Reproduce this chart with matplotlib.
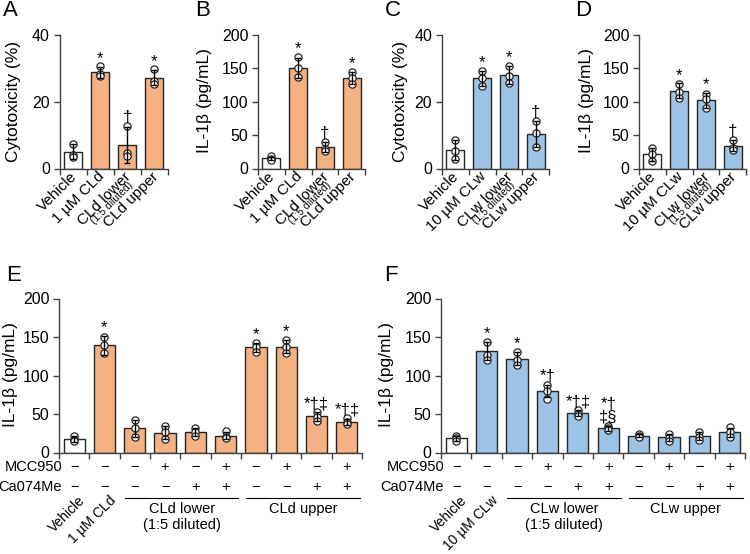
import matplotlib
matplotlib.use('Agg')
import matplotlib.pyplot as plt
import matplotlib.transforms as mtransforms
import numpy as np

plt.rcParams['font.family'] = ['Liberation Sans', 'DejaVu Sans']
plt.rcParams['font.size'] = 10

# ---------------- data ----------------
A_labels = ['Vehicle', '1 µM CLd', 'CLd lower', 'CLd upper']
A_subs = [None, None, '(1:5 diluted)', None]
A_means = [5.0, 28.8, 6.9, 27.2]
A_sds = [2.2, 1.6, 5.4, 2.3]
A_points = [[7.4, 4.0, 3.3], [30.6, 28.3, 27.8], [12.8, 4.5, 3.6], [29.7, 26.3, 25.3]]
A_sig = ['', '*', '†', '*']

B_labels = ['Vehicle', '1 µM CLd', 'CLd lower', 'CLd upper']
B_subs = [None, None, '(1:5 diluted)', None]
B_means = [15.0, 151.0, 32.0, 135.5]
B_sds = [2.5, 15.0, 8.0, 9.0]
B_points = [[18, 14, 13], [167, 151, 137], [40, 29, 26], [145, 135, 127]]
B_sig = ['', '*', '†', '*']

C_labels = ['Vehicle', '10 µM CLw', 'CLw lower', 'CLw upper']
C_subs = [None, None, '(1:5 diluted)', None]
C_means = [5.5, 27.0, 28.0, 10.3]
C_sds = [2.9, 2.2, 2.6, 4.0]
C_points = [[8.6, 5.2, 2.9], [29.2, 27.0, 24.8], [30.8, 27.6, 25.7], [14.2, 10.5, 6.3]]
C_sig = ['', '*', '*', '†']

D_labels = ['Vehicle', '10 µM CLw', 'CLw lower', 'CLw upper']
D_subs = [None, None, '(1:5 diluted)', None]
D_means = [21.0, 116.5, 102.0, 34.0]
D_sds = [10.0, 11.0, 11.0, 8.0]
D_points = [[31, 21, 11], [127, 114, 106], [112, 104, 90], [43, 31, 27]]
D_sig = ['', '*', '*', '†']

E_means = [17.5, 139.0, 31.5, 25.5, 27.0, 22.0, 136.5, 137.5, 47.0, 40.0]
E_sds = [3.5, 12.0, 11.0, 8.5, 5.0, 4.5, 6.0, 8.5, 5.5, 4.0]
E_points = [[22, 16, 14.5], [150, 139, 128.6], [42, 32, 20], [34, 26, 17.5], [32, 27, 21.5],
            [28, 20, 19], [142, 137, 130.5], [146, 137, 129], [52, 46, 41], [45, 39, 36.5]]
E_sig = ['', '*', '', '', '', '', '*', '*', '*†‡', '*†‡']
E_rot = ['Vehicle', '1 µM CLd']
E_groups = [('CLd lower\n(1:5 diluted)', 2, 5), ('CLd upper', 6, 9)]

F_means = [18.5, 131.5, 122.0, 80.0, 51.0, 31.5, 22.0, 19.5, 21.0, 26.0]
F_sds = [3.0, 12.0, 8.0, 8.0, 4.0, 3.0, 2.0, 4.0, 5.0, 6.0]
F_points = [[22, 19, 15.5], [144, 127, 120], [131, 120, 113], [88, 80, 70], [55, 50, 48],
            [35, 31.5, 29.5], [24, 22, 20.5], [24, 19, 15.5], [27, 20, 16.5], [33, 26, 20]]
F_sig = ['', '*', '*', '*†', '*†‡', '*†\n‡§', '', '', '', '']
F_rot = ['Vehicle', '10 µM CLw']
F_groups = [('CLw lower\n(1:5 diluted)', 2, 5), ('CLw upper', 6, 9)]

MCC950 = ['−', '−', '−', '+', '−', '+', '−', '+', '−', '+']
Ca074Me = ['−', '−', '−', '−', '+', '+', '−', '−', '+', '+']

ORANGE = '#F4B183'
BLUE = '#9DC3E6'
EDGE = '#262626'
AXC = '#404040'

W, H = 750, 554
fig = plt.figure(figsize=(W / 100, H / 100), dpi=100)


def px_axes(l, r, t, b):
    ax = fig.add_axes([l / W, 1 - b / H, (r - l) / W, (b - t) / H])
    ax.px = (l, r, t, b)
    return ax


def draw_bars(ax, means, sds, points, color, sig, ymax, step, width):
    n = len(means)
    x = np.arange(n)
    colors = ['white'] + [color] * (n - 1)
    ax.bar(x, means, width=width, color=colors, edgecolor=EDGE, linewidth=1.0, zorder=2)
    for xi, pts in zip(x, points):
        ax.plot([xi] * len(pts), pts, 'o', ms=5.2, mfc='white', mec=EDGE, mew=0.9,
                zorder=3, clip_on=False)
    ax.errorbar(x, means, yerr=sds, fmt='none', ecolor='black', elinewidth=1.0,
                capsize=2.5, capthick=1.0, zorder=4, clip_on=False)
    for xi, m, s, pts, t in zip(x, means, sds, points, sig):
        if t:
            top = max(m + s, max(pts))
            ax.annotate(t, (xi, top), xytext=(0, 0.5), textcoords='offset points',
                        ha='center', va='bottom', fontsize=12, linespacing=0.85)
    ax.set_xlim(-0.5, n - 0.5)
    ax.set_ylim(0, ymax)
    ticks = np.arange(0, ymax + 0.1, step)
    ax.set_yticks(ticks)
    ax.set_yticklabels([f'{int(v)}' for v in ticks], fontsize=11.5)
    ax.set_xticks(np.arange(n + 1) - 0.5)
    ax.set_xticklabels([])
    for s in ['top', 'right']:
        ax.spines[s].set_visible(False)
    for s in ['left', 'bottom']:
        ax.spines[s].set_color(AXC)
        ax.spines[s].set_linewidth(1.0)
    ax.tick_params(axis='both', direction='out', length=4, width=1.0, color=AXC, pad=3)
    ax.patch.set_alpha(0)


def offset(ax, dx_px, dy_px):
    return ax.get_xaxis_transform() + mtransforms.ScaledTranslation(
        dx_px / 100, dy_px / 100, fig.dpi_scale_trans)


def rot_labels(ax, labels, subs, dx=-3, dy=-1):
    for i, lab in enumerate(labels):
        ax.text(i, 0, lab, rotation=45, rotation_mode='anchor', ha='right', va='top',
                fontsize=11, transform=offset(ax, dx, dy))
        if subs[i]:
            ax.text(i, 0, subs[i], rotation=45, rotation_mode='anchor', ha='right', va='top',
                    fontsize=7.5, transform=offset(ax, dx + 4, dy - 10.5))


def ypx_to_axes(ax, ypx):
    l, r, t, b = ax.px
    return (b - ypx) / (b - t)


def bottom_table(ax, rot, groups):
    l, r, t, b = ax.px
    y1 = ypx_to_axes(ax, 467)
    y2 = ypx_to_axes(ax, 487)
    ax.text(3 / (r - l), y1, 'MCC950', transform=ax.transAxes, ha='right', va='center', fontsize=10.5)
    ax.text(3 / (r - l), y2, 'Ca074Me', transform=ax.transAxes, ha='right', va='center', fontsize=10.5)
    tr = ax.get_xaxis_transform()
    for i, (a, c) in enumerate(zip(MCC950, Ca074Me)):
        ax.text(i, y1, a, transform=tr, ha='center', va='center', fontsize=10.5)
        ax.text(i, y2, c, transform=tr, ha='center', va='center', fontsize=10.5)
    for i, lab in enumerate(rot):
        ax.text(i, ypx_to_axes(ax, 493), lab, rotation=45, rotation_mode='anchor',
                ha='right', va='top', fontsize=10, transform=offset(ax, 4, 0))
    yl = ypx_to_axes(ax, 498)
    for lab, s, e in groups:
        ax.plot([s - 0.33, e + 0.42], [yl, yl], transform=tr, color='black', lw=0.8, clip_on=False)
        ax.text((s - 0.33 + e + 0.42) / 2, ypx_to_axes(ax, 502), lab, transform=tr,
                ha='center', va='top', fontsize=10.5, linespacing=1.15)


# ---------------- panels ----------------
axA = px_axes(59.5, 167.5, 35, 168.5)
draw_bars(axA, A_means, A_sds, A_points, ORANGE, A_sig, 40, 20, 0.67)
rot_labels(axA, A_labels, A_subs)

axB = px_axes(258, 365, 35, 168.5)
draw_bars(axB, B_means, B_sds, B_points, ORANGE, B_sig, 200, 50, 0.67)
rot_labels(axB, B_labels, B_subs)

axC = px_axes(442, 549, 35, 168.5)
draw_bars(axC, C_means, C_sds, C_points, BLUE, C_sig, 40, 20, 0.67)
rot_labels(axC, C_labels, C_subs)

axD = px_axes(639, 746, 35, 168.5)
draw_bars(axD, D_means, D_sds, D_points, BLUE, D_sig, 200, 50, 0.67)
rot_labels(axD, D_labels, D_subs)

axE = px_axes(59, 362, 298.5, 452.5)
draw_bars(axE, E_means, E_sds, E_points, ORANGE, E_sig, 200, 50, 0.7)
bottom_table(axE, E_rot, E_groups)

axF = px_axes(441, 745, 298.5, 452.5)
draw_bars(axF, F_means, F_sds, F_points, BLUE, F_sig, 200, 50, 0.7)
bottom_table(axF, F_rot, F_groups)


# y labels
def ylab(xpx, ypx, s):
    fig.text(xpx / W, 1 - ypx / H, s, rotation=90, ha='center', va='center', fontsize=12.5)


ylab(13.5, 101, 'Cytotoxicity (%)')
ylab(204, 101, 'IL-1β (pg/mL)')
ylab(400, 101, 'Cytotoxicity (%)')
ylab(586, 101, 'IL-1β (pg/mL)')
ylab(11, 375, 'IL-1β (pg/mL)')
ylab(386, 375, 'IL-1β (pg/mL)')

# panel letters
for lx, ly, s in [(3, 0, 'A'), (195, 0, 'B'), (385, 0, 'C'), (575, 0, 'D'),
                  (6, 265, 'E'), (384, 265, 'F')]:
    fig.text(lx / W, 1 - ly / H, s, ha='left', va='top', fontsize=16)

fig.savefig('out.png', dpi=100)
